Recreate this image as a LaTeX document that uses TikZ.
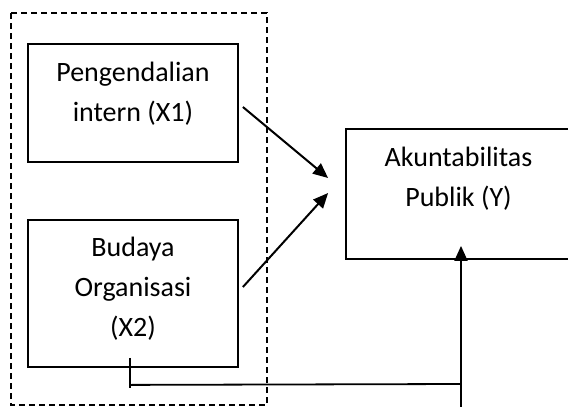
\documentclass[tikz,border=0pt]{standalone}
\usepackage{fontspec}
\setmainfont{Carlito}
\usetikzlibrary{arrows.meta,positioning}

\begin{document}
\begin{tikzpicture}[x=1pt,y=-1pt,
  varbox/.style={draw=black, line width=1.8pt, inner sep=0pt},
  vartext/.style={inner sep=0pt, align=center, font=\fontsize{28}{40}\selectfont},
  flow/.style={line width=2pt, -{Triangle[length=15pt, width=13pt]}},
  link/.style={line width=1.8pt}]
\useasboundingbox (0,0) rectangle (568,407);
% dashed group round X1 and X2
\draw[line width=1.3pt, dash pattern=on 6pt off 4pt] (11,13) rectangle (267,405);
% variables
\node[varbox, minimum width=210pt, minimum height=118pt] (x1) at (133,103) {};
\node[vartext, below=19pt of x1.north] (x1txt) {Pengendalian\\intern (X1)};
\node[varbox, minimum width=210pt, minimum height=147pt] (x2) at (133,293.5) {};
\node[vartext, below=18pt of x2.north] (x2txt) {Budaya\\Organisasi\\(X2)};
\node[varbox, minimum width=225pt, minimum height=130pt] (y) at (458.5,194) {};
\node[vartext, below=19pt of y.north] (ytxt) {Akuntabilitas\\Publik (Y)};
% arrows into Y
\coordinate (tip1) at ([shift={(-17,-16)}]y.west);
\coordinate (tip2) at ([shift={(-17,-1)}]y.west);
\draw[flow] ([shift={(4,4)}]x1.east) -- (tip1);
\draw[flow] ([shift={(4,-6.5)}]x2.east) -- (tip2);
% line under X2 up into Y
\coordinate (tick) at ([shift={(-3,17)}]x2.south);
\coordinate (jn) at (461,384);
\coordinate (lowend) at (461,412);
\draw[link] ([yshift=27pt]tick) -- ([yshift=-3pt]tick);
\draw[link] (tick) -- (jn);
\draw[flow] (lowend) -- ([yshift=14pt]jn |- y.south);
\end{tikzpicture}
\end{document}
